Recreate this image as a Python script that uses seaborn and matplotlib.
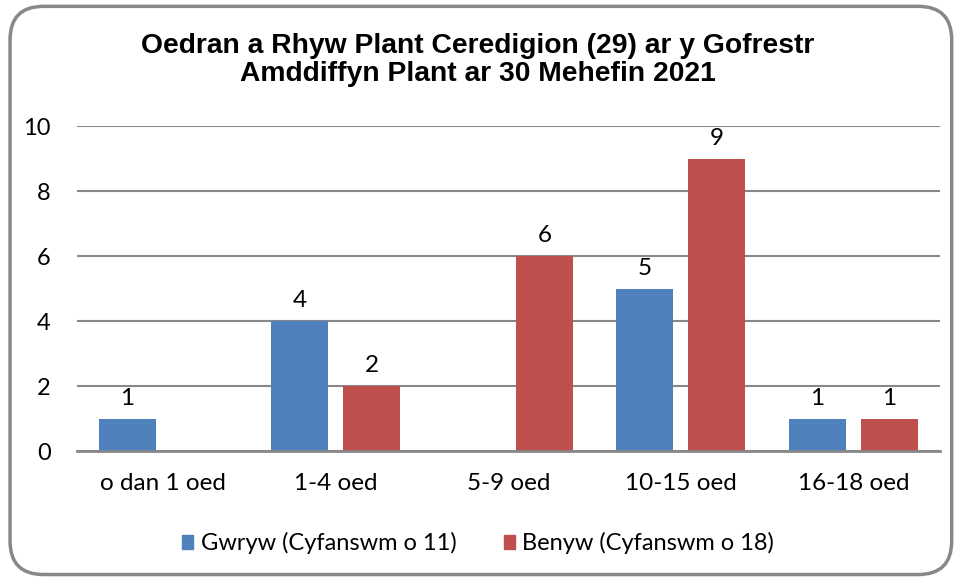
import matplotlib
matplotlib.use("Agg")
import matplotlib.pyplot as plt
import seaborn as sns
import pandas as pd
from matplotlib.patches import FancyBboxPatch

# --- data ---
categories = ["o dan 1 oed", "1-4 oed", "5-9 oed", "10-15 oed", "16-18 oed"]
gwryw = [1, 4, 0, 5, 1]
benyw = [0, 2, 6, 9, 1]
series_names = ["Gwryw (Cyfanswm o 11)", "Benyw (Cyfanswm o 18)"]
title = "Oedran a Rhyw Plant Ceredigion (29) ar y Gofrestr\nAmddiffyn Plant ar 30 Mehefin 2021"

colors = ["#4F81BD", "#C0504D"]
grid_color = "#888888"

df = pd.DataFrame({
    "cat": categories * 2,
    "val": gwryw + benyw,
    "series": [series_names[0]] * len(categories) + [series_names[1]] * len(categories),
})

sns.set_theme(style="white")
plt.rcParams["font.family"] = ["Lato", "DejaVu Sans"]
plt.rcParams["text.color"] = "black"

fig = plt.figure(figsize=(9.56, 5.78), dpi=100)
ax = fig.add_axes([0.0805, 0.2197, 0.9025, 0.5623])

sns.barplot(data=df, x="cat", y="val", hue="series", palette=colors,
            width=0.835, gap=0.21, ax=ax, order=categories,
            hue_order=series_names, saturation=1, errorbar=None,
            linewidth=0, zorder=3)

ax.set_ylim(0, 10)
ax.set_xlim(-0.5, 4.5)
ax.set_yticks([0, 2, 4, 6, 8, 10])
ax.yaxis.grid(True, color=grid_color, linewidth=1.5, zorder=0)
ax.set_axisbelow(True)
for s in ["left", "right", "top"]:
    ax.spines[s].set_visible(False)
ax.spines["bottom"].set_color(grid_color)
ax.spines["bottom"].set_linewidth(2)
ax.spines["bottom"].set_zorder(4)
ax.set_xlabel("")
ax.set_ylabel("")
ax.tick_params(axis="y", length=0, pad=19, labelsize=17, labelcolor="black")
ax.tick_params(axis="x", length=0, pad=16, labelsize=17.5, labelcolor="black")

# value labels, zero bars left unlabelled
for cont, vals in zip(ax.containers, [gwryw, benyw]):
    labels = [str(v) if v != 0 else "" for v in vals]
    ax.bar_label(cont, labels=labels, padding=7, fontsize=17.5, color="black")

ax.legend_.remove()
handles = [plt.Rectangle((0, 0), 1, 1, color=c) for c in colors]
fig.legend(handles, series_names, loc="center", bbox_to_anchor=(0.5, 0.06),
           ncol=2, frameon=False, fontsize=17, handlelength=0.5, handleheight=0.5,
           handletextpad=0.3, columnspacing=2.0)

fig.text(0.5, 0.896, title, ha="center", va="center", fontsize=20.3,
         fontweight="bold", color="black",
         family=["Liberation Sans", "DejaVu Sans"], linespacing=1.12)

# rounded chart-area frame
border = FancyBboxPatch((0.0105, 0.006), 0.985, 0.983,
                        boxstyle="round,pad=0,rounding_size=0.035",
                        transform=fig.transFigure, fill=False,
                        edgecolor="#888888", linewidth=2.5,
                        mutation_aspect=956 / 578)
fig.patches.append(border)

fig.savefig("out.png", dpi=100)
